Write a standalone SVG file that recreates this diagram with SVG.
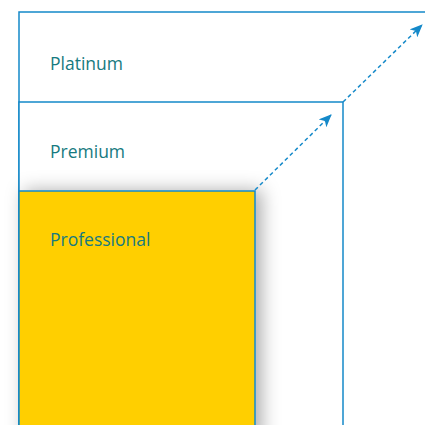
<svg xmlns="http://www.w3.org/2000/svg" width="425" height="425" viewBox="0 0 425 425">
<defs>
<style>
.box{stroke:#1589c9;stroke-width:1.5}
.lbl{font-family:"Open Sans","Noto Sans",sans-serif;font-size:17.5px;fill:#167a80}
.conn{stroke:#1589c9;stroke-width:1.5;stroke-dasharray:4 3;fill:none}
</style>
<filter id="sh" x="-30%" y="-30%" width="160%" height="160%">
<feDropShadow dx="6" dy="0" stdDeviation="9" flood-color="#000" flood-opacity="0.32"/>
</filter>
<marker id="ah" viewBox="0 0 13 11" refX="12" refY="5.5" markerWidth="13" markerHeight="11" markerUnits="userSpaceOnUse" orient="auto">
<path d="M0,0 L13,5.5 L0,11 L3.5,5.5 Z" fill="#1589c9"/>
</marker>
</defs>
<rect width="425" height="425" fill="#fff"/>
<g id="platinum">
<rect class="box" x="19" y="12" width="420" height="430" fill="#fff"/>
<text class="lbl" x="50" y="70">Platinum</text>
</g>
<g id="premium">
<rect class="box" x="19" y="102" width="324" height="340" fill="#fff"/>
<text class="lbl" x="50" y="158">Premium</text>
</g>
<g id="professional">
<rect class="box" x="19" y="191" width="236" height="250" fill="#ffcf00" filter="url(#sh)"/>
<text class="lbl" x="50" y="246">Professional</text>
</g>
<g id="connectors">
<line class="conn" x1="255" y1="190" x2="331" y2="115" marker-end="url(#ah)"/>
<line class="conn" x1="343" y1="102" x2="422" y2="25" marker-end="url(#ah)"/>
</g>
</svg>
